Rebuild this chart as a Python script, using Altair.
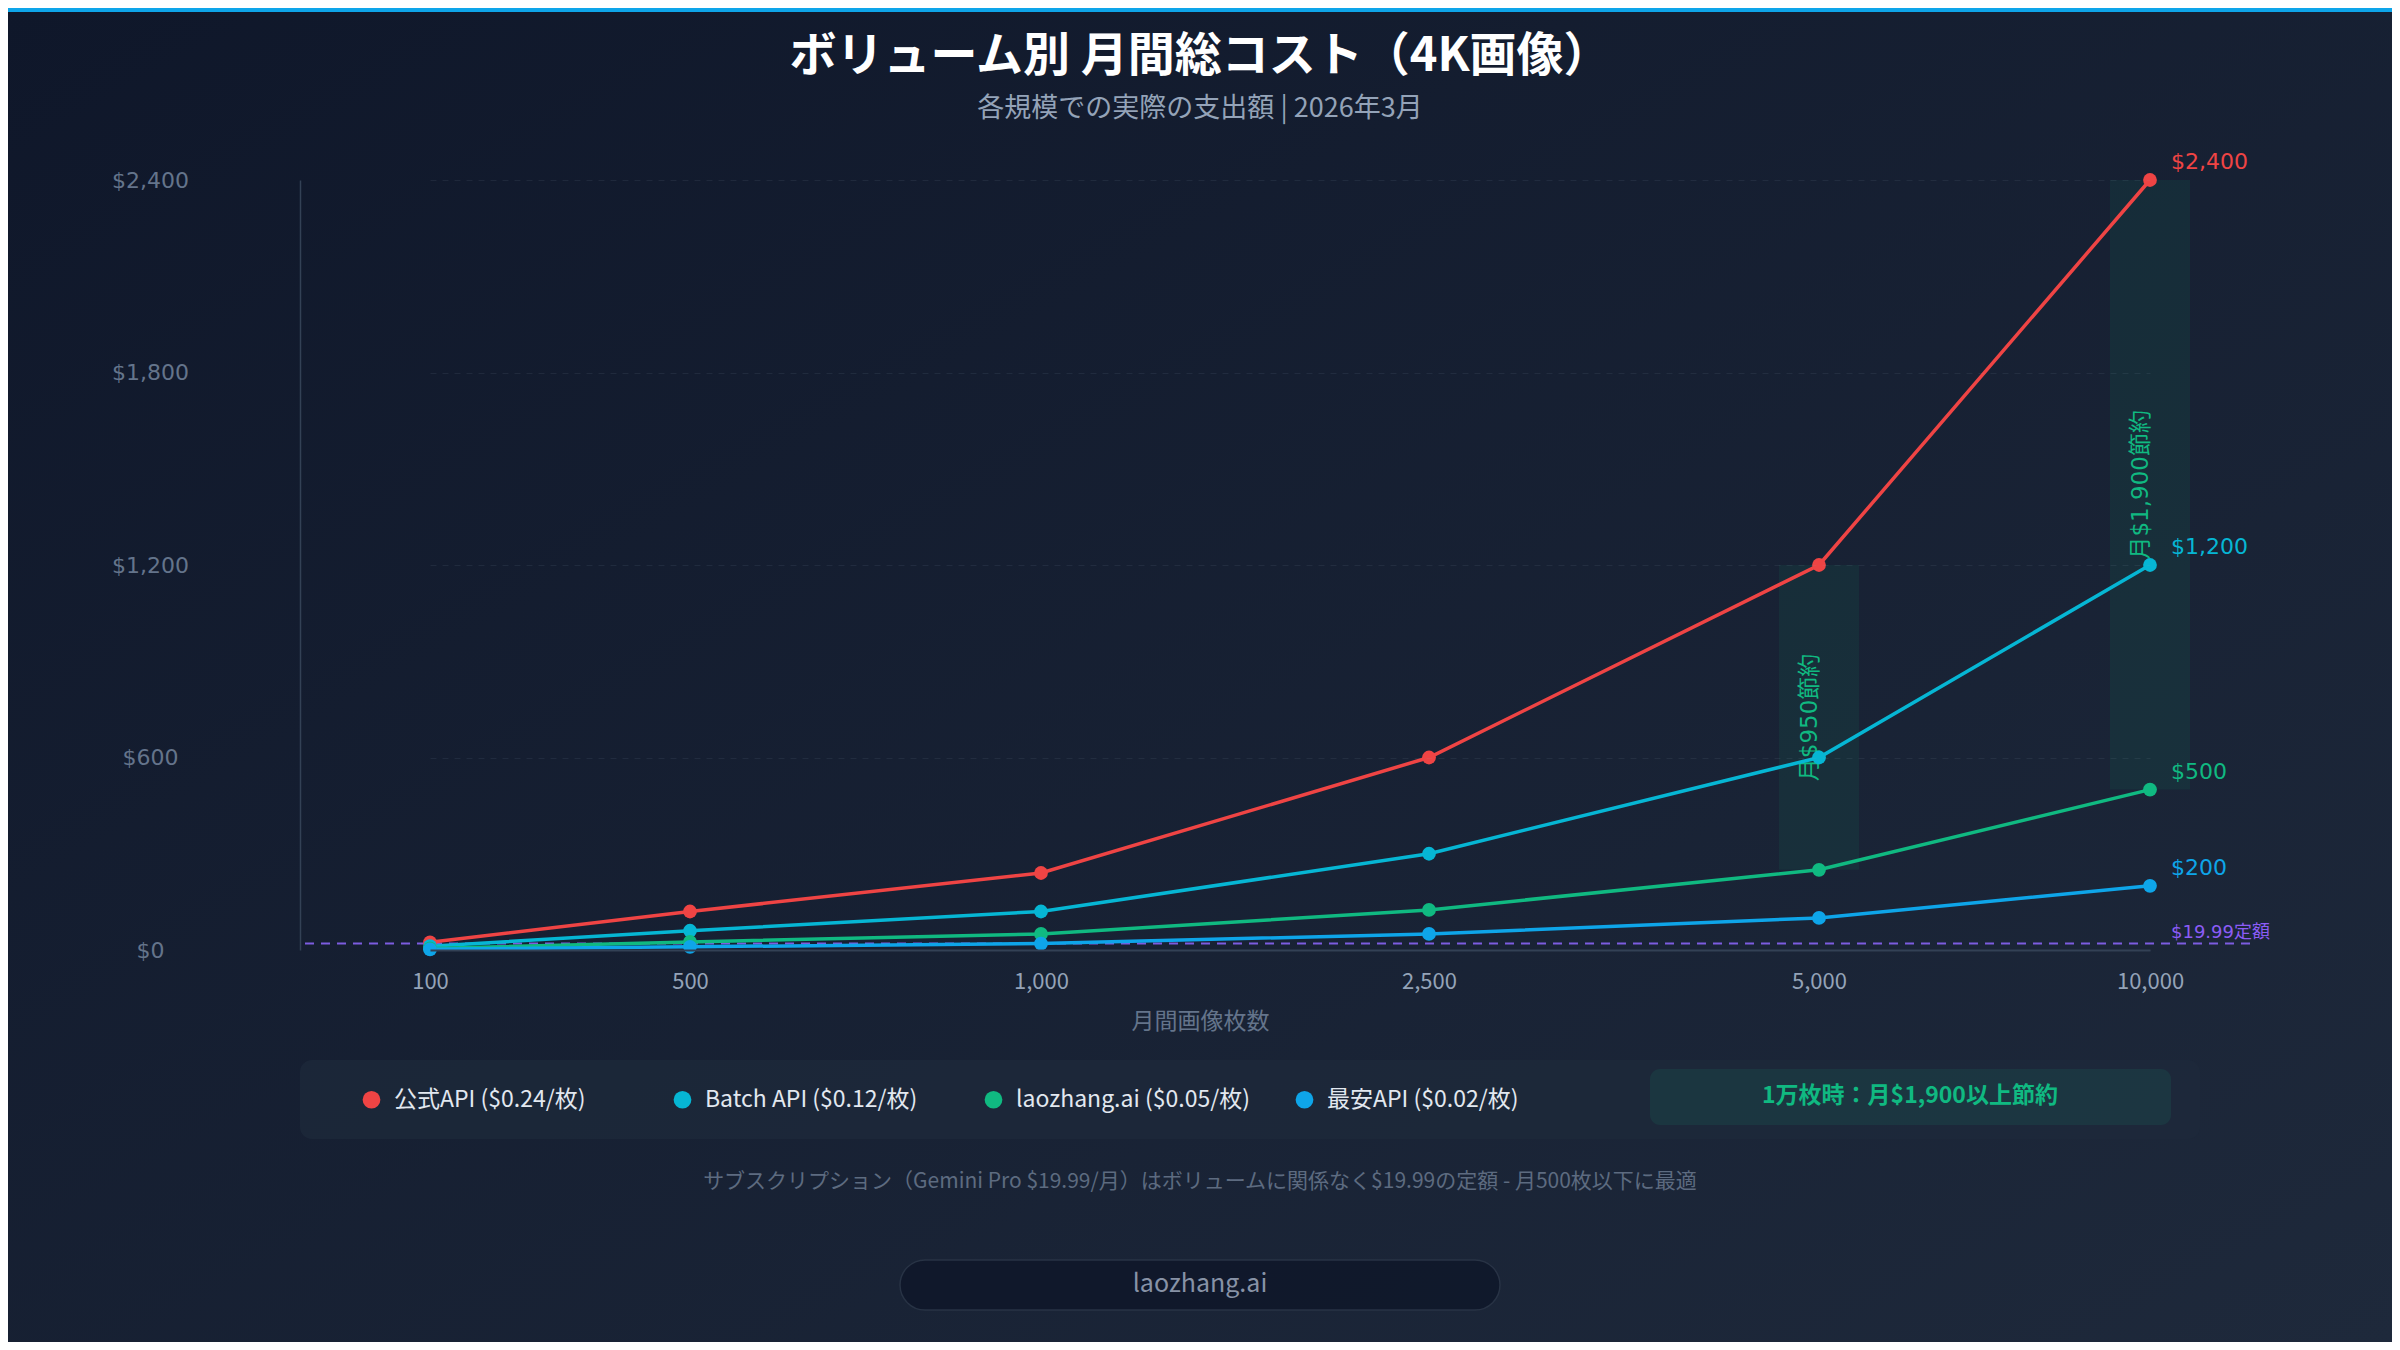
import altair as alt
import pandas as pd

# ---------------- data ----------------
volumes = [100, 500, 1000, 2500, 5000, 10000]
series_names = ["公式API ($0.24/枚)", "Batch API ($0.12/枚)", "laozhang.ai ($0.05/枚)", "最安API ($0.02/枚)"]
official_cost = [24, 120, 240, 600, 1200, 2400]
batch_cost = [12, 60, 120, 300, 600, 1200]
laozhang_cost = [5, 25, 50, 125, 250, 500]
cheapest_cost = [2, 10, 20, 50, 100, 200]
series_colors = ["#ef4444", "#06b6d4", "#10b981", "#0ea5e9"]

subscription_cost = [19.99]
subscription_label = ["$19.99定額"]

savings_volumes = [5000, 10000]
savings_low = [250, 500]
savings_high = [1200, 2400]
savings_labels = ["月$950節約", "月$1,900節約"]

y_ticks = [0, 600, 1200, 1800, 2400]

title_text = "ボリューム別 月間総コスト（4K画像）"
subtitle_text = "各規模での実際の支出額 | 2026年3月"
x_title = "月間画像枚数"
badge_text = "1万枚時：月$1,900以上節約"
note_text = "サブスクリプション（Gemini Pro $19.99/月）はボリュームに関係なく$19.99の定額 - 月500枚以下に最適"
brand_text = "laozhang.ai"

# ---------------- tables ----------------
rows = []
for name, costs in zip(series_names, [official_cost, batch_cost, laozhang_cost, cheapest_cost]):
    for v, c in zip(volumes, costs):
        rows.append({"series": name, "volume": v, "cost": c})
df = pd.DataFrame(rows)
df_end = df[df["volume"] == volumes[-1]].copy()
df_end["label"] = df_end["cost"].map(lambda c: "$" + format(c, ","))

df_sub = pd.DataFrame({"volume": [volumes[-1]], "cost": subscription_cost, "label": subscription_label})
df_save = pd.DataFrame({"volume": savings_volumes, "low": savings_low, "high": savings_high, "label": savings_labels})
one = pd.DataFrame({"d": [0]})

JP = "Noto Sans CJK JP"
NUM = "DejaVu Sans, Noto Sans CJK JP"

W, H = 1950, 770
PAD = {"left": 292, "top": 172, "right": 142, "bottom": 392}

x_scale = alt.Scale(domain=volumes, range=[130, 390, 741, 1129, 1519, 1850],
                    nice=False, zero=False, padding=0)
y_scale = alt.Scale(domain=[0, 2400], nice=False, zero=True)

x_axis = alt.Axis(
    values=volumes, labelExpr="format(datum.value, ',')", title=x_title,
    titleFont=JP, titleFontSize=23, titleColor="#64748b", titleFontWeight="normal",
    titleX=900, titleY=71, titleBaseline="middle", titleAlign="center",
    labelFont=JP, labelFontSize=22, labelColor="#94a3b8", labelPadding=21,
    ticks=False, tickSize=0, domainColor="#334155", domainWidth=2,
    grid=False, labelFlush=False, labelOverlap=False, zindex=1,
)
y_axis = alt.Axis(
    values=y_ticks, format="$,.0f", title=None,
    labelFont=NUM, labelFontSize=22, labelColor="#64748b", labelAlign="center",
    labelBaseline="middle", labelPadding=150, ticks=False, tickSize=0,
    domainColor="#334155", domainWidth=1.5,
    grid=True, gridColor="#94a3b8", gridOpacity=0.1, gridDash=[6, 6], gridWidth=1, zindex=1,
)

X = alt.X("volume:Q", scale=x_scale, axis=x_axis)
Y = alt.Y("cost:Q", scale=y_scale, axis=y_axis)
color_scale = alt.Scale(domain=series_names, range=series_colors)

# ---------------- decorations ----------------
bg = alt.Chart(one).mark_rect(
    fill={"gradient": "linear", "x1": 0, "y1": 0, "x2": 1, "y2": 1,
          "stops": [{"offset": 0, "color": "#0f172a"}, {"offset": 1, "color": "#1e293b"}]}
).encode(x=alt.value(-PAD["left"]), x2=alt.value(W + PAD["right"]),
         y=alt.value(-PAD["top"]), y2=alt.value(H + PAD["bottom"]))

topbar = alt.Chart(one).mark_rect(fill="#0ea5e9").encode(
    x=alt.value(-PAD["left"]), x2=alt.value(W + PAD["right"]),
    y=alt.value(-PAD["top"]), y2=alt.value(-PAD["top"] + 4))

legend_box = alt.Chart(one).mark_rect(fill="#1e293b", opacity=0.75, cornerRadius=12).encode(
    x=alt.value(0), x2=alt.value(1900), y=alt.value(880), y2=alt.value(959))

badge = alt.Chart(one).mark_rect(fill="#10b981", opacity=0.1, cornerRadius=10).encode(
    x=alt.value(1350), x2=alt.value(1871), y=alt.value(889), y2=alt.value(945))

badge_txt = alt.Chart(one).mark_text(text=badge_text, font=JP, fontSize=23, fontWeight="bold",
                                     color="#10b981", align="center", baseline="middle").encode(
    x=alt.value(1610), y=alt.value(916))

pill = alt.Chart(one).mark_rect(fill="#0f172a", opacity=0.85, stroke="#2b3648", strokeWidth=1.5,
                                cornerRadius=25).encode(
    x=alt.value(600), x2=alt.value(1200), y=alt.value(1080), y2=alt.value(1130))

pill_txt = alt.Chart(one).mark_text(text=brand_text, font=JP, fontSize=25, color="#8792a6",
                                    align="center", baseline="middle").encode(
    x=alt.value(900), y=alt.value(1104))

note_txt = alt.Chart(one).mark_text(text=note_text, font=JP, fontSize=21, color="#5d6b80",
                                    align="center", baseline="middle").encode(
    x=alt.value(900), y=alt.value(1002))

title_txt = alt.Chart(one).mark_text(text=title_text, font=JP, fontSize=47, fontWeight="bold",
                                     color="#ffffff", align="center", baseline="middle").encode(
    x=alt.value(900), y=alt.value(-123))

subtitle_txt = alt.Chart(one).mark_text(text=subtitle_text, font=JP, fontSize=27, color="#94a3b8",
                                        align="center", baseline="middle").encode(
    x=alt.value(900), y=alt.value(-71))

# ---------------- data layers ----------------
save_bars = alt.Chart(df_save).mark_bar(width=80, orient="vertical", color="#10b981", opacity=0.08).encode(
    x=X, y=alt.Y("low:Q", scale=y_scale, axis=y_axis), y2="high:Q")

save_txt = alt.Chart(df_save).transform_calculate(mid="(datum.low + datum.high) / 2").mark_text(
    angle=270, font=NUM, fontSize=23, color="#10b981", align="center", baseline="middle", dy=-9
).encode(x=X, y=alt.Y("mid:Q", scale=y_scale, axis=y_axis), text="label:N")

sub_rule = alt.Chart(df_sub).mark_rule(color="#7c5ce0", strokeDash=[9, 7], strokeWidth=2).encode(
    y=alt.Y("cost:Q", scale=y_scale, axis=y_axis))

sub_txt = alt.Chart(df_sub).mark_text(font=NUM, fontSize=18, color="#8b5cf6", align="left",
                                      baseline="middle", dx=21, dy=-11).encode(x=X, y=Y, text="label:N")

line_layers = []
for name, col in zip(series_names, series_colors):
    line_layers.append(
        alt.Chart(df).transform_filter(alt.datum.series == name)
        .mark_line(strokeWidth=3.5, color=col).encode(x=X, y=Y)
    )

points = alt.Chart(df).mark_circle(size=190, opacity=1).encode(
    x=X, y=Y,
    color=alt.Color("series:N", scale=color_scale, legend=alt.Legend(
        title=None, orient="none", legendX=60, legendY=908, direction="horizontal",
        columns=4, gridAlign="all", symbolType="circle", symbolSize=314, symbolStrokeWidth=0,
        symbolOpacity=1, labelFont=JP, labelFontSize=23, labelColor="#e2e8f0", labelOffset=11,
        columnPadding=43, padding=0, labelLimit=500, zindex=1)))

end_layers = []
for name, col in zip(series_names, series_colors):
    end_layers.append(
        alt.Chart(df_end).transform_filter(alt.datum.series == name)
        .mark_text(font=NUM, fontSize=22, align="left", baseline="middle", dx=21, dy=-18, color=col)
        .encode(x=X, y=Y, text="label:N")
    )

chart = alt.layer(
    bg, topbar, legend_box, badge, badge_txt, pill, pill_txt, note_txt, title_txt, subtitle_txt,
    save_bars, save_txt, sub_rule, *line_layers, points, *end_layers, sub_txt,
).properties(
    width=W, height=H, padding=PAD, autosize=alt.AutoSizeParams(type="none"),
).configure(background="#0f172a").configure_view(stroke=None)

chart.save("out.html", embed_options={"renderer": "svg", "actions": False})
